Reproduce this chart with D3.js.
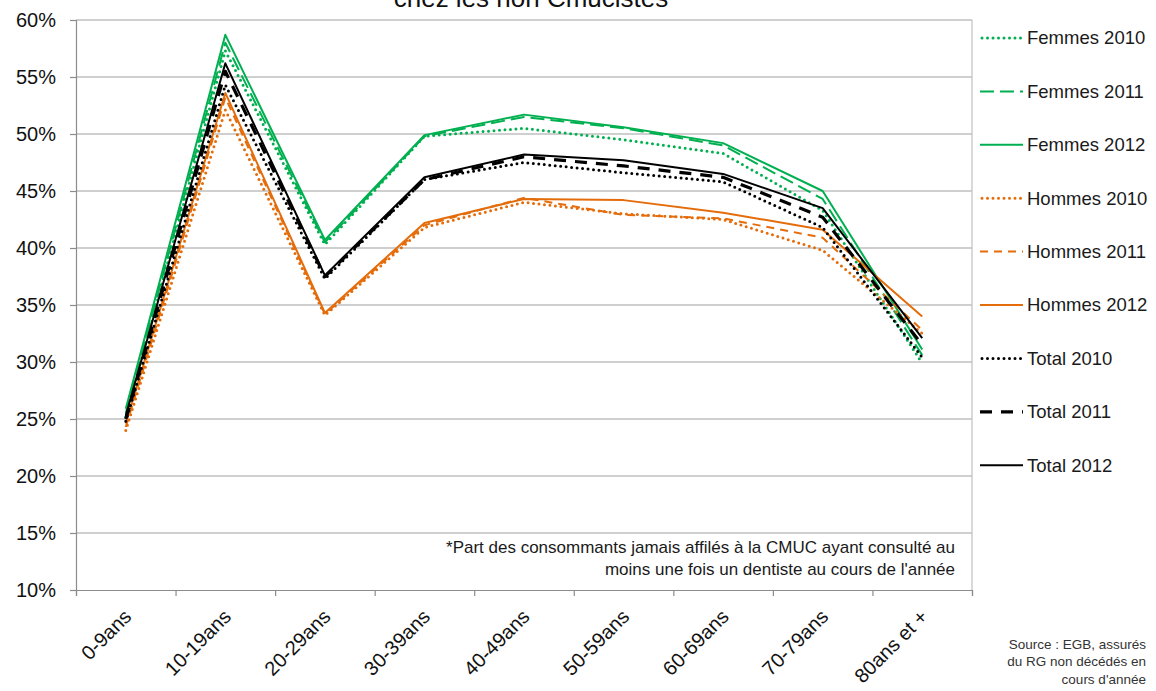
<!DOCTYPE html>
<html>
<head>
<meta charset="utf-8">
<script src="https://cdn.jsdelivr.net/npm/d3@7"></script>
<style>
  body { margin: 0; background: #fff; }
  svg text { font-family: "Liberation Sans", Arial, sans-serif; }
</style>
</head>
<body>
<div id="chart"></div>
<script>
// age groups
var categories = ["0-9ans", "10-19ans", "20-29ans", "30-39ans", "40-49ans", "50-59ans", "60-69ans", "70-79ans", "80ans et +"];
var yTicks = [0.10, 0.15, 0.20, 0.25, 0.30, 0.35, 0.40, 0.45, 0.50, 0.55, 0.60];

// values in %
var femmes2010 = [25.2, 57.3, 40.3, 49.8, 50.5, 49.5, 48.3, 43.3, 29.9];
var femmes2011 = [25.5, 58.0, 40.5, 49.8, 51.5, 50.5, 49.0, 44.3, 30.6];
var femmes2012 = [25.9, 58.7, 40.7, 49.9, 51.7, 50.6, 49.2, 45.0, 31.1];
var hommes2010 = [24.0, 52.1, 34.1, 41.8, 44.0, 43.0, 42.5, 39.8, 32.5];
var hommes2011 = [24.3, 53.2, 34.2, 42.0, 44.4, 42.9, 42.6, 40.9, 32.8];
var hommes2012 = [24.6, 53.6, 34.3, 42.2, 44.3, 44.2, 43.1, 41.6, 34.0];
var total2010 = [24.8, 54.3, 37.3, 46.0, 47.5, 46.6, 45.8, 41.8, 30.4];
var total2011 = [25.0, 55.5, 37.5, 46.0, 48.0, 47.2, 46.2, 42.7, 31.5];
var total2012 = [25.3, 56.2, 37.6, 46.2, 48.2, 47.7, 46.5, 43.5, 32.1];

var seriesNames = ["Femmes 2010", "Femmes 2011", "Femmes 2012", "Hommes 2010", "Hommes 2011", "Hommes 2012", "Total 2010", "Total 2011", "Total 2012"];
var seriesValues = [femmes2010, femmes2011, femmes2012, hommes2010, hommes2011, hommes2012, total2010, total2011, total2012];

var green = "#00b050", orange = "#e46c0a", black = "#000";
var styles = [
  {color: green, w: 3, dash: "0,5.5", cap: "round"},
  {color: green, w: 2, dash: "14,6", cap: "butt"},
  {color: green, w: 2, dash: null, cap: "butt"},
  {color: orange, w: 3, dash: "0,5.5", cap: "round"},
  {color: orange, w: 2, dash: "8,6", cap: "butt"},
  {color: orange, w: 2, dash: null, cap: "butt"},
  {color: black, w: 3, dash: "0,5.5", cap: "round"},
  {color: black, w: 3.2, dash: "12,9", cap: "butt"},
  {color: black, w: 2, dash: null, cap: "butt"}
];

var W = 1156, H = 691;
var mLeft = 76, mRight = 972, mTop = 20, mBottom = 590;

var svg = d3.select("#chart").append("svg").attr("width", W).attr("height", H);

var x = d3.scaleBand().domain(categories).range([mLeft, mRight]);
var xc = function (c) { return x(c) + x.bandwidth() / 2; };
var xEdge = d3.scaleLinear().domain([0, categories.length]).range([mLeft, mRight]);
var y = d3.scaleLinear().domain([0.10, 0.60]).range([mBottom, mTop]);

// title (only the lower part is visible)
svg.append("text").attr("x", 531).attr("y", 7).attr("text-anchor", "middle")
  .style("font-size", "26px").style("fill", "#111").text("chez les non Cmucistes");

// gridlines
svg.append("g").selectAll("line").data(yTicks.slice(1)).enter().append("line")
  .attr("x1", mLeft).attr("x2", mRight)
  .attr("y1", function (d) { return y(d); }).attr("y2", function (d) { return y(d); })
  .style("stroke", "#a0a0a0").style("stroke-width", 1.2);

// right border
svg.append("line").attr("x1", mRight).attr("x2", mRight).attr("y1", mTop).attr("y2", mBottom)
  .style("stroke", "#c0c0c0").style("stroke-width", 1.2);

// y axis
var yAxis = svg.append("g").attr("transform", "translate(" + mLeft + ",0)")
  .call(d3.axisLeft(y).tickValues(yTicks).tickFormat(d3.format(".0%")).tickSize(6).tickPadding(14));
yAxis.selectAll("path, line").style("stroke", "#8c8c8c").style("stroke-width", 1.2);
yAxis.selectAll("text").style("font-size", "20px").style("fill", "#111");

// x axis
var xAxis = svg.append("g").attr("transform", "translate(0," + mBottom + ")")
  .call(d3.axisBottom(xEdge).tickValues(d3.range(categories.length + 1)).tickFormat("").tickSize(6));
xAxis.select("path").style("stroke", "#8c8c8c").style("stroke-width", 1.2);
xAxis.selectAll("line").style("stroke", "#8c8c8c").style("stroke-width", 1.2);

svg.append("g").selectAll("text").data(categories).enter().append("text")
  .attr("transform", function (d) { return "translate(" + (xc(d) - 3) + "," + (mBottom + 18) + ") rotate(-45)"; })
  .attr("text-anchor", "end").attr("dy", "0.7em")
  .style("font-size", "20px").style("fill", "#111")
  .text(function (d) { return d; });

// lines
var line = d3.line()
  .x(function (d, i) { return xc(categories[i]); })
  .y(function (d) { return y(d / 100); });

svg.append("g").selectAll("path").data(seriesValues).enter().append("path")
  .attr("d", function (d) { return line(d); })
  .style("fill", "none")
  .style("stroke", function (d, i) { return styles[i].color; })
  .style("stroke-width", function (d, i) { return styles[i].w; })
  .style("stroke-dasharray", function (d, i) { return styles[i].dash; })
  .style("stroke-linecap", function (d, i) { return styles[i].cap; })
  .style("stroke-linejoin", "round");

// legend
var lg = svg.append("g").selectAll("g").data(seriesNames).enter().append("g")
  .attr("transform", function (d, i) { return "translate(980," + (38 + i * 53.4) + ")"; });
lg.append("line").attr("x1", function (d, i) { return styles[i].cap == "round" ? 2 : 0; }).attr("x2", 43).attr("y1", 0).attr("y2", 0)
  .style("stroke", function (d, i) { return styles[i].color; })
  .style("stroke-width", function (d, i) { return styles[i].w; })
  .style("stroke-dasharray", function (d, i) { return styles[i].dash; })
  .style("stroke-linecap", function (d, i) { return styles[i].cap; });
lg.append("text").attr("x", 47).attr("dy", "0.35em")
  .style("font-size", "18.5px").style("fill", "#1a1a1a")
  .text(function (d) { return d; });

// note
var note = svg.append("text").attr("text-anchor", "end").style("font-size", "17px").style("fill", "#1a1a1a");
note.append("tspan").attr("x", 955).attr("y", 553).text("*Part des consommants jamais affilés à la CMUC ayant consulté au");
note.append("tspan").attr("x", 955).attr("y", 575).text("moins une fois un dentiste au cours de l'année");

// source
var src = svg.append("text").attr("text-anchor", "end").style("font-size", "13.5px").style("fill", "#333");
src.append("tspan").attr("x", 1146).attr("y", 649).text("Source : EGB, assurés");
src.append("tspan").attr("x", 1146).attr("y", 666).text("du RG non décédés en");
src.append("tspan").attr("x", 1146).attr("y", 684).text("cours d'année");
</script>
</body>
</html>
